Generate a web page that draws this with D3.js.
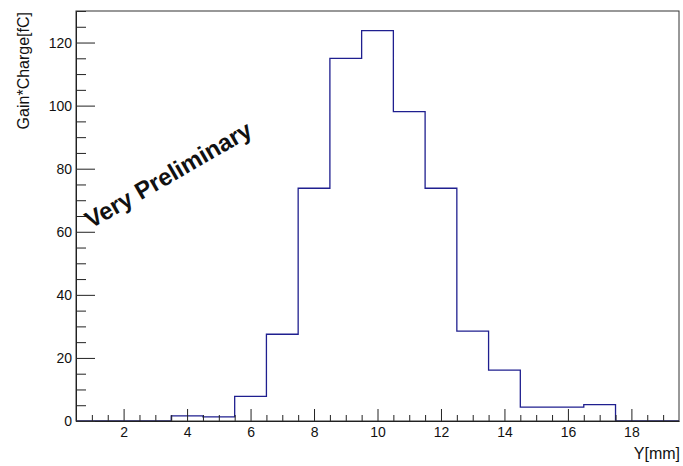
<!DOCTYPE html>
<html>
<head>
<meta charset="utf-8">
<script src="https://cdn.jsdelivr.net/npm/d3@7"></script>
<style>
body { margin: 0; background: #fff; }
text { font-family: "Liberation Sans", Arial, sans-serif; fill: #111; }
</style>
</head>
<body>
<script>
const width = 683;
const height = 466;

// histogram bins (width 1 mm, centred on integers)
const binCenters = [1, 2, 3, 4, 5, 6, 7, 8, 9, 10, 11, 12, 13, 14, 15, 16, 17, 18, 19];
const binValues = [0, 0, 0, 1.6, 1.3, 7.8, 27.5, 73.8, 115.0, 123.8, 98.1, 73.8, 28.5, 16.1, 4.4, 4.4, 5.2, 0, 0];
const xMajorTicks = [2, 4, 6, 8, 10, 12, 14, 16, 18];
const yMajorTicks = [0, 20, 40, 60, 80, 100, 120];

const margin = {left: 76, top: 11, right: 4, bottom: 45};
const w = width - margin.left - margin.right;
const h = height - margin.top - margin.bottom;

const svg = d3.select('body').append('svg').attr('width', width).attr('height', height);
const g = svg.append('g').attr('transform', `translate(${margin.left},${margin.top})`);

const x = d3.scaleLinear().domain([0.5, 19.5]).range([0, w]);
const y = d3.scaleLinear().domain([0, 130]).range([h, 0]);

// step outline
const pts = [];
binCenters.forEach((c, i) => {
    pts.push([c - 0.5, binValues[i]]);
    pts.push([c + 0.5, binValues[i]]);
});
pts.unshift([0.5, 0]);
pts.push([19.5, 0]);

g.append('path')
    .datum(pts)
    .attr('fill', 'none')
    .attr('stroke', '#1f1f8f')
    .attr('stroke-width', 1.3)
    .attr('d', d3.line().x(d => x(d[0])).y(d => y(d[1])));

// minor ticks
const xMinor = d3.range(1, 19.5, 0.5).filter(v => v % 2 !== 0);
const yMinor = d3.range(5, 131, 5).filter(v => v % 20 !== 0);

g.append('g')
    .attr('transform', `translate(0,${h})`)
    .call(d3.axisBottom(x).tickValues(xMinor).tickSize(-6).tickFormat(''))
    .call(a => a.select('.domain').remove());
g.append('g')
    .call(d3.axisLeft(y).tickValues(yMinor).tickSize(-10).tickFormat(''))
    .call(a => a.select('.domain').remove());

const xAxis = g.append('g')
    .attr('transform', `translate(0,${h})`)
    .call(d3.axisBottom(x).tickValues(xMajorTicks).tickSize(-12).tickPadding(6.5).tickSizeOuter(0));
const yAxis = g.append('g')
    .call(d3.axisLeft(y).tickValues(yMajorTicks).tickSize(-19).tickPadding(4).tickSizeOuter(0));

svg.selectAll('.tick line').attr('stroke', '#222');
svg.selectAll('.domain').attr('stroke', '#111');
svg.selectAll('.tick text')
    .style('font-family', '"Liberation Sans", Arial, sans-serif')
    .style('font-size', '14px')
    .attr('fill', '#111');

// frame
g.append('rect')
    .attr('width', w).attr('height', h)
    .attr('fill', 'none')
    .attr('stroke', '#333')
    .attr('stroke-width', 1);

// titles
svg.append('text')
    .attr('transform', 'translate(28.5,12) rotate(-90)')
    .attr('text-anchor', 'end')
    .style('font-size', '16px')
    .text('Gain*Charge[fC]');

svg.append('text')
    .attr('x', 680).attr('y', 459)
    .attr('text-anchor', 'end')
    .style('font-size', '16px')
    .text('Y[mm]');

svg.append('text')
    .attr('transform', 'translate(91,229) rotate(-30)')
    .style('font-size', '24px')
    .style('font-weight', 'bold')
    .attr('fill', '#000')
    .text('Very Preliminary');
</script>
</body>
</html>
